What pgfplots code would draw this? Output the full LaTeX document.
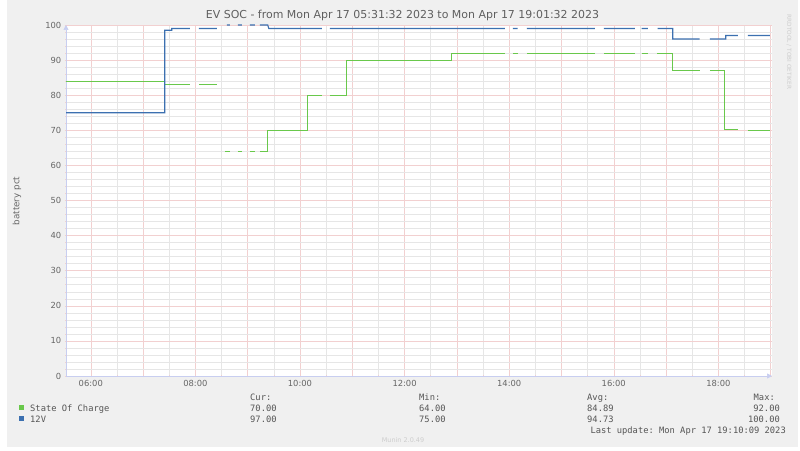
\documentclass[border=0pt]{standalone}
\usepackage{fontspec}
\setmainfont{DejaVu Sans}
\setmonofont{DejaVu Sans Mono}
\usepackage{pgfplots}
\pgfplotsset{compat=1.18}
\usetikzlibrary{arrows.meta}

\definecolor{bggray}{RGB}{240,240,240}
\definecolor{socgreen}{RGB}{105,200,75}
\definecolor{vblue}{RGB}{60,112,176}
\definecolor{axisblue}{RGB}{200,206,240}
\definecolor{majgrid}{RGB}{242,208,208}
\definecolor{mingrid}{RGB}{230,230,230}
\definecolor{fontgray}{RGB}{102,102,102}
\definecolor{txtgray}{RGB}{85,85,85}
\definecolor{faint}{RGB}{205,205,205}

\newcommand\mono{\fontsize{8.8}{10}\ttfamily}

\begin{document}
\begin{tikzpicture}[x=1bp,y=1bp]
\fill[white] (0,0) rectangle (800,451);
\path[use as bounding box] (0,0) rectangle (800,451);
\fill[bggray] (7,4) rectangle (798,451);

\begin{axis}[at={(66bp,75bp)}, anchor=south west, scale only axis,
  width=706bp, height=351bp,
  xmin=5.526, xmax=19.026, ymin=0, ymax=100,
  axis background/.style={fill=white},
  axis x line=bottom, axis y line=left,
  axis line style={draw=axisblue, line width=0.7bp, -{Triangle[length=5bp,width=5bp]}},
  xtick={6,7,...,19},
  xticklabels={06:00,,08:00,,10:00,,12:00,,14:00,,16:00,,18:00,},
  minor x tick num=1,
  ytick={0,10,...,100}, minor y tick num=4,
  grid=both,
  major grid style={draw=majgrid, line width=0.5bp},
  minor grid style={draw=mingrid, line width=0.5bp},
  major tick length=2.5bp, minor tick length=1.5bp,
  tick style={draw=majgrid, line width=0.5bp},
  ticklabel style={font=\fontsize{8.4}{10}\selectfont, text=fontgray},
  /pgf/number format/assume math mode=true,
  unbounded coords=jump,
]
% State Of Charge
\addplot[socgreen, line width=1.1bp] coordinates {
  (5.526,84) (7.415,84) (7.415,83) (7.893,83) (7.98,nan)
  (8.065,83) (8.409,83) (8.48,nan)
  (8.562,64) (8.658,64) (8.73,nan)
  (8.811,64) (8.887,64) (8.96,nan)
  (9.040,64) (9.136,64) (9.18,nan)
  (9.231,64) (9.384,64) (9.384,70) (10.149,70) (10.149,80) (10.417,80) (10.49,nan)
  (10.570,80) (10.895,80) (10.895,90) (12.902,90) (12.902,92) (13.916,92) (13.99,nan)
  (14.069,92) (14.164,92) (14.25,nan)
  (14.337,92) (15.637,92) (15.72,nan)
  (15.809,92) (16.402,92) (16.47,nan)
  (16.535,92) (16.650,92) (16.73,nan)
  (16.822,92) (17.128,92) (17.128,87) (17.644,87) (17.74,nan)
  (17.836,87) (18.122,87) (18.122,70.3) (18.371,70.3) (18.46,nan)
  (18.562,70) (18.983,70)
};
% 12V
\addplot[vblue, line width=1.1bp] coordinates {
  (5.526,75) (7.415,75) (7.415,98.5) (7.549,98.5) (7.549,99) (7.893,99) (7.98,nan)
  (8.065,99) (8.409,99) (8.50,nan)
  (8.600,100) (8.658,100) (8.73,nan)
  (8.811,100) (8.887,100) (8.96,nan)
  (9.040,100) (9.136,100) (9.18,nan)
  (9.231,100) (9.384,100) (9.403,99) (10.417,99) (10.49,nan)
  (10.570,99) (13.916,99) (13.99,nan)
  (14.069,99) (14.164,99) (14.25,nan)
  (14.337,99) (15.637,99) (15.72,nan)
  (15.809,99) (16.402,99) (16.47,nan)
  (16.535,99) (16.650,99) (16.73,nan)
  (16.841,99) (17.128,99) (17.128,96) (17.644,96) (17.74,nan)
  (17.836,96) (18.141,96) (18.141,97) (18.371,97) (18.46,nan)
  (18.562,97) (18.983,97)
};
\end{axis}

% title and labels
\node[anchor=base, text={rgb,255:red,95;green,95;blue,95}, font=\fontsize{11}{13}\selectfont, inner sep=0pt]
  at (402.5,432) {EV SOC - from Mon Apr 17 05:31:32 2023 to Mon Apr 17 19:01:32 2023};
\node[rotate=90, text=fontgray, font=\fontsize{8.8}{10}\selectfont, inner sep=0pt]
  at (17,250) {battery pct};
\node[rotate=-90, text=faint, font=\fontsize{5.8}{7}\selectfont, inner sep=0pt]
  at (789,399) {RRDTOOL / TOBI OETIKER};

% legend
\fill[socgreen] (19,41) rectangle (24,46);
\fill[vblue] (19,30) rectangle (24,35);
\begin{scope}[every node/.style={inner sep=0pt, text=txtgray, font=\mono}]
\node[anchor=base west] at (30,39.5) {State Of Charge};
\node[anchor=base west] at (30,28.5) {12V};
\node[anchor=base west] at (250,50) {Cur:};
\node[anchor=base west] at (250,39.5) {70.00};
\node[anchor=base west] at (250,28.5) {97.00};
\node[anchor=base west] at (419,50) {Min:};
\node[anchor=base west] at (419,39.5) {64.00};
\node[anchor=base west] at (419,28.5) {75.00};
\node[anchor=base west] at (587,50) {Avg:};
\node[anchor=base west] at (587,39.5) {84.89};
\node[anchor=base west] at (587,28.5) {94.73};
\node[anchor=base east] at (775,50) {Max:};
\node[anchor=base east] at (780,39.5) {92.00};
\node[anchor=base east] at (780,28.5) {100.00};
\node[anchor=base east] at (786,17.5) {Last update: Mon Apr 17 19:10:09 2023};
\end{scope}
\node[anchor=base, inner sep=0pt, text=faint, font=\fontsize{6.5}{8}\selectfont]
  at (403,8.5) {Munin 2.0.49};
\end{tikzpicture}
\end{document}
